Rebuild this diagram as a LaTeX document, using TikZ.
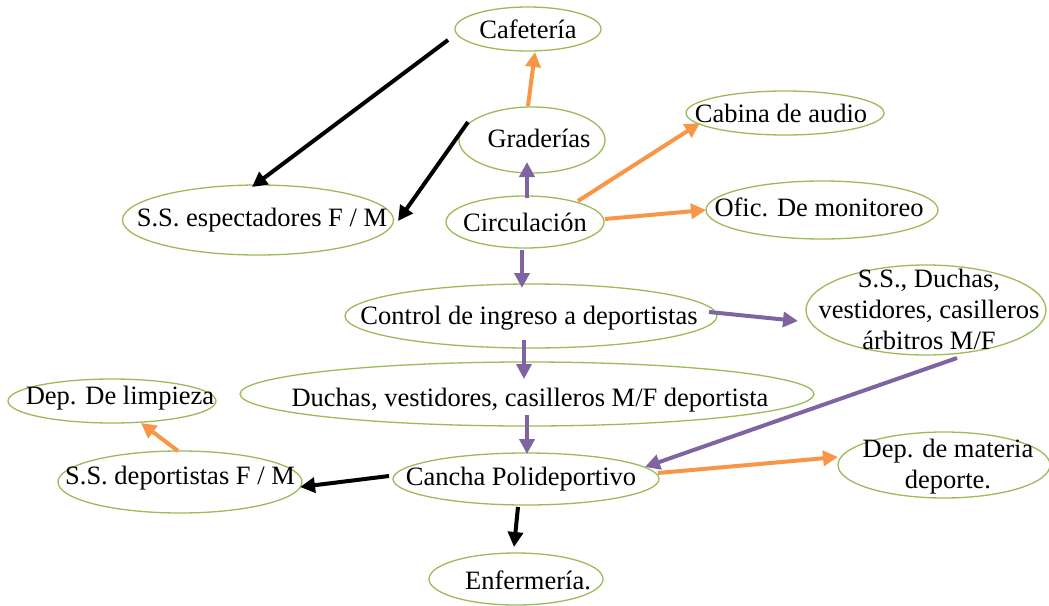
\documentclass[tikz,border=0pt]{standalone}
\usepackage{fontspec}
\setmainfont{Liberation Serif}
\usetikzlibrary{arrows.meta,shapes.geometric}
\definecolor{ovalgreen}{HTML}{9BBB59}
\definecolor{arrorange}{HTML}{F79646}
\definecolor{arrpurple}{HTML}{8064A2}
\tikzset{
  oval/.style={ellipse, draw=ovalgreen, line width=1.3pt, inner sep=0pt},
  txt/.style={font=\fontsize{26.5}{31}\selectfont, inner sep=0pt, align=center},
  conn/.style={line width=4pt, -{Triangle[length=15pt,width=15pt]}},
  orangearr/.style={conn, draw=arrorange, fill=arrorange},
  purplearr/.style={conn, draw=arrpurple, fill=arrpurple},
  blackarr/.style={conn, draw=black, fill=black},
}
\begin{document}
\begin{tikzpicture}[x=1pt,y=-1pt]
\useasboundingbox (0,0) rectangle (1049,605);
% ovals
\node[oval, minimum width=146pt, minimum height=44pt,
  label={[txt]center:Cafetería}] (caf) at (528,29) {};
\node[oval, minimum width=146pt, minimum height=66pt,
  label={[txt,xshift=7pt,yshift=2pt]center:Graderías}] (grad) at (532,140) {};
\node[oval, minimum width=158pt, minimum height=52pt,
  label={[txt]center:Circulación}] (circ) at (525,222) {};
\node[oval, minimum width=271pt, minimum height=70pt,
  label={[txt,xshift=4pt]center:S.S. espectadores F / M}] (sse) at (258,220) {};
\node[oval, minimum width=198pt, minimum height=44pt,
  label={[txt,xshift=-4pt]center:Cabina de audio}] (cab) at (785,113) {};
\node[oval, minimum width=232pt, minimum height=58pt,
  label={[txt,xshift=-3pt,yshift=3pt]center:Ofic. De monitoreo}] (ofic) at (822,210) {};
\node[oval, minimum width=372pt, minimum height=64pt,
  label={[txt,xshift=-2pt,yshift=-2pt]center:Control de ingreso a deportistas}] (ctrl) at (531,316) {};
\node[oval, minimum width=240pt, minimum height=90pt,
  label={[txt,xshift=3pt,yshift=1pt]center:S.S., Duchas,\\vestidores, casilleros\\árbitros M/F}] (ssd) at (926,310) {};
\node[oval, minimum width=574pt, minimum height=64pt,
  label={[txt,xshift=3pt,yshift=-6pt]center:Duchas, vestidores, casilleros M/F deportista}] (duch) at (527,394) {};
\node[oval, minimum width=208pt, minimum height=44pt,
  label={[txt,xshift=8pt,yshift=3pt]center:Dep. De limpieza}] (limp) at (112,401) {};
\node[oval, minimum width=244pt, minimum height=62pt,
  label={[txt,yshift=4pt]center:S.S. deportistas F / M}] (ssdep) at (180,482) {};
\node[oval, minimum width=266pt, minimum height=52pt,
  label={[txt,xshift=-5pt]center:Cancha Polideportivo}] (cancha) at (526,479) {};
\node[oval, minimum width=212pt, minimum height=66pt,
  label={[txt,xshift=4pt,yshift=-2pt]center:Dep. de materia\\deporte.}] (mat) at (944,465) {};
\node[oval, minimum width=174pt, minimum height=52pt,
  label={[txt,xshift=12pt,yshift=-1pt]center:Enfermería.}] (enf) at (516,579) {};
% connectors
\draw[blackarr] ([shift={(-80,11)}]caf.center) -- ([shift={(-6,-33)}]sse.center);
\draw[blackarr] ([shift={(-64,-18)}]grad.center) -- ([shift={(140,1)}]sse.center);
\draw[orangearr] ([shift={(-4,-34)}]grad.center) -- ([shift={(7,23)}]caf.center);
\draw[purplearr] ([shift={(2,-24)}]circ.center) -- ([shift={(-5,22)}]grad.center);
\draw[orangearr] ([shift={(53,-21)}]circ.center) -- ([shift={(-85,10)}]cab.center);
\draw[orangearr] ([shift={(80,-3)}]circ.center) -- ([shift={(-116,0)}]ofic.center);
\draw[purplearr] ([shift={(-3,28)}]circ.center) -- ([shift={(-9,-28)}]ctrl.center);
\draw[purplearr] ([shift={(-7,24)}]ctrl.center) -- ([shift={(-3,-15)}]duch.center);
\draw[purplearr] ([shift={(178,-4)}]ctrl.center) -- ([shift={(-128,11)}]ssd.center);
\draw[purplearr] ([shift={(0,21)}]duch.center) -- ([shift={(1,-25)}]cancha.center);
\draw[purplearr] ([shift={(31,48)}]ssd.center) -- ([shift={(119,-12)}]cancha.center);
\draw[orangearr] ([shift={(132,-6)}]cancha.center) -- ([shift={(-106,-8)}]mat.center);
\draw[blackarr] ([shift={(-137,-3)}]cancha.center) -- ([shift={(120,5)}]ssdep.center);
\draw[orangearr] ([shift={(-2,-31)}]ssdep.center) -- ([shift={(29,22)}]limp.center);
\draw[blackarr] ([shift={(-8,28)}]cancha.center) -- ([shift={(-2,-32)}]enf.center);
\end{tikzpicture}
\end{document}
